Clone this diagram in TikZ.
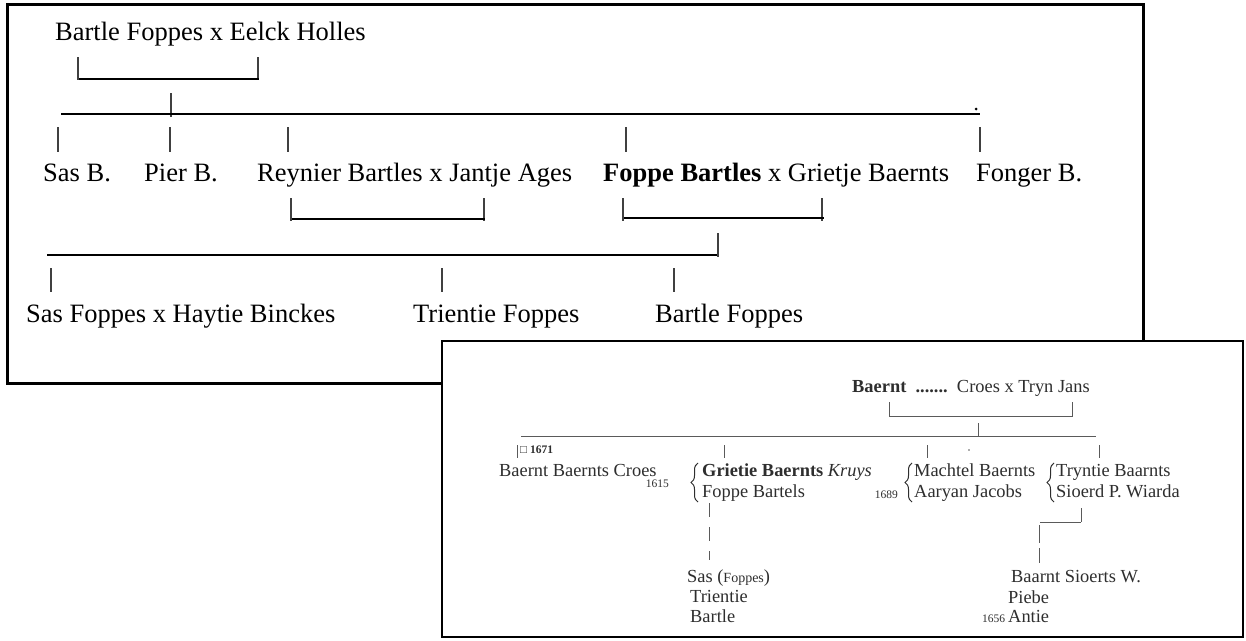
\documentclass[tikz,border=0pt]{standalone}
\usepackage{fontspec}
\setmainfont{Liberation Serif}
\usetikzlibrary{decorations.pathreplacing}
\definecolor{ink}{HTML}{2E2E2E}
\definecolor{scanline}{HTML}{5A5A5A}
\begin{document}
\begin{tikzpicture}[x=1pt,y=-1pt,
  big/.style={font=\fontsize{26.5}{30}\selectfont, anchor=base west, inner sep=0pt},
  sm/.style={font=\fontsize{18.4}{21}\selectfont, anchor=base west, inner sep=0pt, text=ink},
  tiny/.style={font=\fontsize{11.5}{13}\selectfont, anchor=base west, inner sep=0pt, text=ink},
  heavy/.style={line width=2.8pt},
  vt/.style={line width=1.4pt, draw=black!75},
  ln/.style={line width=1pt, draw=scanline},
  bracebar/.style={line width=1pt, draw=ink, decorate, decoration={brace, amplitude=7pt}},
  frame/.style={line width=3pt}]
\useasboundingbox (0,0) rectangle (1246,640);
% ---------- upper chart ----------
\draw[frame] (7,4) rectangle (1143,383);
\node[big] (bfeh) at (55,40) {Bartle Foppes x Eelck Holles};
\draw[vt] (78,57) -- (78,80);
\draw[vt] (258,57) -- (258,80);
\draw[heavy] (79,79) -- (259,79);
\draw[vt] (171,93) -- (171,117);
\draw[heavy] (61,114) -- (980,114);
\fill (976,109) circle (1.5);
\foreach \x in {58,170,288,626,980} \draw[vt] (\x,127) -- (\x,152);
\node[big] (sasb) at (43,181) {Sas B.};
\node[big] (pierb) at (144,181) {Pier B.};
\node[big] (reyn) at (257,181) {Reynier Bartles x Jantje Ages};
\node[big] (foppe) at (603,181) {\textbf{Foppe Bartles} x Grietje Baernts};
\node[big] (fonger) at (976,181) {Fonger B.};
\draw[vt] (291,198) -- (291,221);
\draw[vt] (484,198) -- (484,221);
\draw[heavy] (292,219) -- (485,219);
\draw[vt] (623,198) -- (623,221);
\draw[vt] (822,198) -- (822,221);
\draw[heavy] (624,218) -- (824,218);
\draw[vt] (718,233) -- (718,257);
\draw[heavy] (47,255) -- (717,255);
\foreach \x in {51,442,674} \draw[vt] (\x,268) -- (\x,292);
\node[big] (sasf) at (26,322) {Sas Foppes x Haytie Binckes};
\node[big] (trif) at (413,322) {Trientie Foppes};
\node[big] (bartf) at (655,322) {Bartle Foppes};
% ---------- lower chart ----------
\draw[line width=2.5pt, fill=white] (442,341) rectangle (1243,637);
\node[sm] (baernt) at (852,392) {\textbf{Baernt\ \ .......}\ \ Croes x Tryn Jans};
\draw[ln] (889,402) -- (889,417);
\draw[ln] (1072,402) -- (1072,417);
\draw[ln] (889,416) -- (1072,416);
\draw[ln] (978,423) -- (978,437);
\draw[ln] (521,436) -- (1096,436);
\foreach \x in {517,724,927,1099} \draw[ln] (\x,445) -- (\x,458);
\fill[scanline] (969,450) circle (0.8);
\node[tiny] (d1671) at (520,453) {□ \textbf{1671}};
\node[sm] (bbc) at (499,476) {Baernt Baernts Croes};
\node[tiny, anchor=base east] (d1615) at (669,487) {1615};
\draw[bracebar] (698,502) -- (698,463);
\node[sm] (grietie) at (702,476) {\textbf{Grietie Baernts} \textit{Kruys}};
\node[sm] (fb) at (702,497) {Foppe Bartels};
\draw[ln, dash pattern=on 14pt off 10pt] (709,503) -- (709,560);
\node[sm] (sas) at (687,582) {Sas ({\fontsize{14}{16}\selectfont Foppes})};
\node[sm] (tri) at (690,602) {Trientie};
\node[sm] (bar) at (690,622) {Bartle};
\node[tiny, anchor=base east] (d1689) at (898,498) {1689};
\draw[bracebar] (912,502) -- (912,463);
\node[sm] (mach) at (914,476) {Machtel Baernts};
\node[sm] (aar) at (914,497) {Aaryan Jacobs};
\draw[bracebar] (1054,502) -- (1054,463);
\node[sm] (tryn) at (1056,476) {Tryntie Baarnts};
\node[sm] (sio) at (1056,497) {Sioerd P. Wiarda};
\draw[ln] (1040,522) -- (1081,522);
\draw[ln] (1081,508) -- (1081,522);
\draw[ln, dash pattern=on 18pt off 5pt] (1039,525) -- (1039,563);
\node[sm] (bsw) at (1011,582) {Baarnt Sioerts W.};
\node[sm] (piebe) at (1008,603) {Piebe};
\node[tiny] (d1656) at (982,622) {1656};
\node[sm] (antie) at (1008,622) {Antie};
\end{tikzpicture}
\end{document}
